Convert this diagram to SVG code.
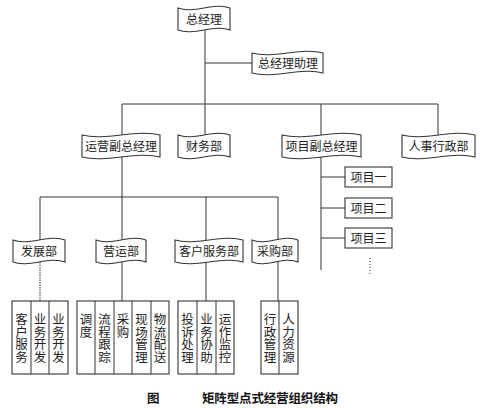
<svg xmlns="http://www.w3.org/2000/svg" width="484" height="408" viewBox="0 0 484 408">
<style>
.b{fill:#fff;stroke:#333;stroke-width:1.1}
.l{fill:none;stroke:#333;stroke-width:1}
.t{font-family:"Noto Sans CJK SC","Noto Sans CJK JP",sans-serif;font-size:12px;fill:#222;text-anchor:middle}
.v{font-family:"Noto Sans CJK SC","Noto Sans CJK JP",sans-serif;font-size:12.5px;fill:#222;text-anchor:middle}
.c{font-family:"Noto Sans CJK SC","Noto Sans CJK JP",sans-serif;font-size:12.5px;font-weight:bold;fill:#111}
</style>
<rect width="484" height="408" fill="#fff"/>
<g id="connectors">
<path class="l" d="M205,30V135M205,63H252M122,104H438M122,104V135M321,104V135M438,104V135"/>
<path class="l" d="M122,157V240M40,197H278M40,197V240M206,197V240M278,197V240"/>
<path class="l" d="M321,157V270M321,177H345M321,208H345M321,238H345"/>
<path class="l" d="M370,258V276" stroke-dasharray="1,2"/>
<path class="l" d="M40,262V301" stroke-dasharray="1.5,1"/>
<path class="l" d="M122,262V301M206,262V301M278,262V301"/>
</g>
<g id="n-zjl"><path class="b" d="M178,8 C193.6,14 214.4,2 230,8 L230,30 C214.4,24 193.6,36 178,30 Z"/><text class="t" x="204" y="23.5">总经理</text></g>
<g id="n-zjlzl"><path class="b" d="M252,53 C273.3,59 301.7,47 323,53 L323,73 C301.7,67 273.3,79 252,73 Z"/><text class="t" x="288" y="67.5">总经理助理</text></g>
<g id="n-yyfzjl"><path class="b" d="M82,135 C105.4,141 136.6,129 160,135 L160,157 C136.6,151 105.4,163 82,157 Z"/><text class="t" x="121" y="150.5">运营副总经理</text></g>
<g id="n-cwb"><path class="b" d="M178,135 C193.6,141 214.4,129 230,135 L230,157 C214.4,151 193.6,163 178,157 Z"/><text class="t" x="204" y="150.5">财务部</text></g>
<g id="n-xmfzjl"><path class="b" d="M282,135 C305.7,141 337.3,129 361,135 L361,157 C337.3,151 305.7,163 282,157 Z"/><text class="t" x="321.5" y="150.5">项目副总经理</text></g>
<g id="n-rsxzb"><path class="b" d="M402,135 C423.9,141 453.1,129 475,135 L475,157 C453.1,151 423.9,163 402,157 Z"/><text class="t" x="438.5" y="150.5">人事行政部</text></g>
<g id="n-xm1"><rect class="b" x="345" y="167" width="47" height="20"/><text class="t" x="368.5" y="181.5">项目一</text></g>
<g id="n-xm2"><rect class="b" x="345" y="198" width="47" height="20"/><text class="t" x="368.5" y="212.5">项目二</text></g>
<g id="n-xm3"><rect class="b" x="345" y="228" width="47" height="20"/><text class="t" x="368.5" y="242.5">项目三</text></g>
<g id="n-fzb"><path class="b" d="M13,240 C28.6,246 49.4,234 65,240 L65,262 C49.4,256 28.6,268 13,262 Z"/><text class="t" x="39" y="255.5">发展部</text></g>
<g id="n-yyb"><path class="b" d="M96,240 C111,246 131,234 146,240 L146,262 C131,256 111,268 96,262 Z"/><text class="t" x="121" y="255.5">营运部</text></g>
<g id="n-khfwb"><path class="b" d="M175,240 C195.4,246 222.6,234 243,240 L243,262 C222.6,256 195.4,268 175,262 Z"/><text class="t" x="209" y="255.5">客户服务部</text></g>
<g id="n-cgb"><path class="b" d="M252,240 C265.8,246 284.2,234 298,240 L298,262 C284.2,256 265.8,268 252,262 Z"/><text class="t" x="275" y="255.5">采购部</text></g>
<g id="n-g1">
<rect class="b" x="12" y="301" width="56" height="73"/>
<path class="l" d="M31,301V374M49,301V374"/>
<text class="v" x="21.5" y="324"><tspan x="21.5">客</tspan><tspan x="21.5" dy="12.5">户</tspan><tspan x="21.5" dy="12.5">服</tspan><tspan x="21.5" dy="12.5">务</tspan></text>
<text class="v" x="40" y="324"><tspan x="40">业</tspan><tspan x="40" dy="12.5">务</tspan><tspan x="40" dy="12.5">开</tspan><tspan x="40" dy="12.5">发</tspan></text>
<text class="v" x="58.5" y="324"><tspan x="58.5">业</tspan><tspan x="58.5" dy="12.5">务</tspan><tspan x="58.5" dy="12.5">开</tspan><tspan x="58.5" dy="12.5">发</tspan></text>
</g>
<g id="n-g2">
<rect class="b" x="77" y="301" width="92" height="73"/>
<path class="l" d="M95,301V374M114,301V374M132,301V374M151,301V374"/>
<text class="v" x="86" y="324"><tspan x="86">调</tspan><tspan x="86" dy="12.5">度</tspan></text>
<text class="v" x="104.5" y="324"><tspan x="104.5">流</tspan><tspan x="104.5" dy="12.5">程</tspan><tspan x="104.5" dy="12.5">跟</tspan><tspan x="104.5" dy="12.5">踪</tspan></text>
<text class="v" x="123" y="324"><tspan x="123">采</tspan><tspan x="123" dy="12.5">购</tspan></text>
<text class="v" x="141.5" y="324"><tspan x="141.5">现</tspan><tspan x="141.5" dy="12.5">场</tspan><tspan x="141.5" dy="12.5">管</tspan><tspan x="141.5" dy="12.5">理</tspan></text>
<text class="v" x="160" y="324"><tspan x="160">物</tspan><tspan x="160" dy="12.5">流</tspan><tspan x="160" dy="12.5">配</tspan><tspan x="160" dy="12.5">送</tspan></text>
</g>
<g id="n-g3">
<rect class="b" x="178" y="301" width="56" height="73"/>
<path class="l" d="M197,301V374M216,301V374"/>
<text class="v" x="187.5" y="324"><tspan x="187.5">投</tspan><tspan x="187.5" dy="12.5">诉</tspan><tspan x="187.5" dy="12.5">处</tspan><tspan x="187.5" dy="12.5">理</tspan></text>
<text class="v" x="206.5" y="324"><tspan x="206.5">业</tspan><tspan x="206.5" dy="12.5">务</tspan><tspan x="206.5" dy="12.5">协</tspan><tspan x="206.5" dy="12.5">助</tspan></text>
<text class="v" x="225" y="324"><tspan x="225">运</tspan><tspan x="225" dy="12.5">作</tspan><tspan x="225" dy="12.5">监</tspan><tspan x="225" dy="12.5">控</tspan></text>
</g>
<g id="n-g4">
<rect class="b" x="261" y="301" width="37" height="73"/>
<path class="l" d="M279,301V374"/>
<text class="v" x="270" y="324"><tspan x="270">行</tspan><tspan x="270" dy="12.5">政</tspan><tspan x="270" dy="12.5">管</tspan><tspan x="270" dy="12.5">理</tspan></text>
<text class="v" x="288.5" y="324"><tspan x="288.5">人</tspan><tspan x="288.5" dy="12.5">力</tspan><tspan x="288.5" dy="12.5">资</tspan><tspan x="288.5" dy="12.5">源</tspan></text>
</g>
<text class="c" x="147" y="403">图</text>
<text class="c" x="202" y="403" textLength="136">矩阵型点式经营组织结构</text>
</svg>
